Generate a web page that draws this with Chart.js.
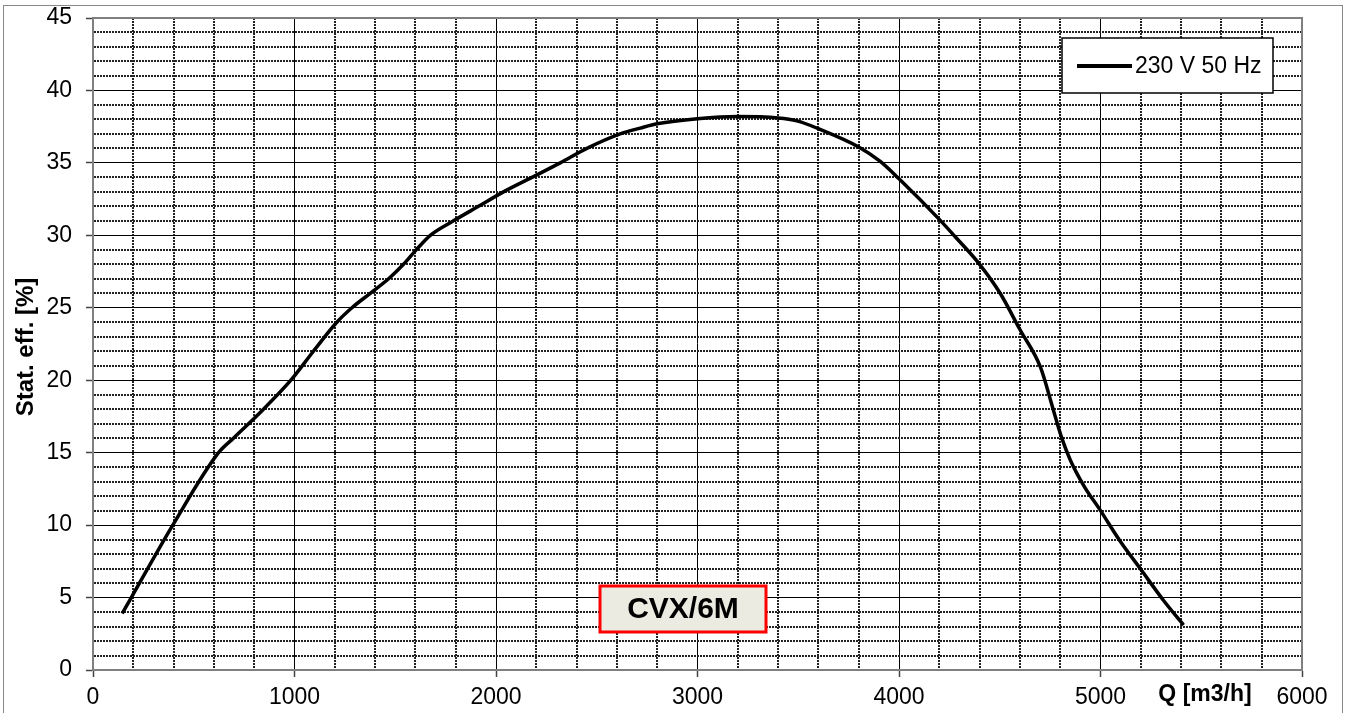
<!DOCTYPE html>
<html>
<head>
<meta charset="utf-8">
<script src="https://cdn.jsdelivr.net/npm/chart.js@4.4.1/dist/chart.umd.min.js"></script>
<style>
  html, body { margin: 0; padding: 0; background: #fff; }
  #wrap { position: relative; width: 1345px; height: 713px; }
</style>
</head>
<body>
<div id="wrap"><canvas id="effChart" width="1345" height="713"></canvas></div>
<script>
// flow rate Q [m3/h]
const flowValues = [145, 190, 396, 623, 697, 846, 982, 1094, 1210, 1285, 1376, 1467, 1541, 1604, 1674,
    1789, 1913, 2037, 2178, 2319, 2451, 2616, 2716, 2800, 3000, 3200, 3400, 3493, 3600, 3800,
    3907, 4000, 4200, 4279, 4400, 4502, 4600, 4702, 4767, 4808, 4850, 4916, 5000, 5097, 5197, 5313, 5412];
// static efficiency [%]
const effValues = [3.9, 5, 10, 15, 16, 18, 20, 22, 24, 25, 26, 27, 28, 29, 30,
    31, 32, 33, 34, 35, 36, 37, 37.4, 37.7, 38.05, 38.2, 38.1, 37.9, 37.36, 36.1,
    35.1, 33.9, 31.1, 29.9, 28, 26, 23.5, 20.9, 17.9, 16, 14.5, 12.75, 11, 8.9, 7, 4.8, 3.1];

const seriesLabel = '230 V 50 Hz';
const modelName = 'CVX/6M';
const xTitle = 'Q [m3/h]';
const yTitle = 'Stat. eff. [%]';
const xTickLabels = [0, 1000, 2000, 3000, 4000, 5000, 6000];
const yTickLabels = [0, 5, 10, 15, 20, 25, 30, 35, 40, 45];

const isMajorX = (v) => xTickLabels.includes(v);
const isMajorY = (v) => yTickLabels.includes(v);

// frame, legend, titles and model badge
const extras = {
    id: 'extras',
    beforeDatasetsDraw(chart) {
        const { ctx, chartArea: a } = chart;
        ctx.save();
        ctx.strokeStyle = '#808080';
        ctx.lineWidth = 2;
        ctx.strokeRect(a.left, a.top, a.right - a.left, a.bottom - a.top);
        ctx.restore();
    },
    afterDraw(chart) {
        const { ctx } = chart;
        ctx.save();

        // outer picture border
        ctx.strokeStyle = '#888';
        ctx.lineWidth = 1;
        ctx.strokeRect(3.5, 5.5, 1339, 720);

        // legend
        ctx.fillStyle = '#fff';
        ctx.fillRect(1062, 38, 211, 55);
        ctx.strokeStyle = '#000';
        ctx.lineWidth = 1.5;
        ctx.strokeRect(1062, 38, 211, 55);
        ctx.lineWidth = 4;
        ctx.beginPath();
        ctx.moveTo(1077, 66);
        ctx.lineTo(1132, 66);
        ctx.stroke();
        ctx.fillStyle = '#000';
        ctx.font = '23px "Liberation Sans", Arial, sans-serif';
        ctx.textAlign = 'left';
        ctx.textBaseline = 'middle';
        ctx.fillText(chart.data.datasets[0].label, 1135, 67);

        // axis titles
        ctx.font = 'bold 23px "Liberation Sans", Arial, sans-serif';
        ctx.textAlign = 'center';
        ctx.fillText(xTitle, 1205, 695);
        ctx.save();
        ctx.translate(26, 347);
        ctx.rotate(-Math.PI / 2);
        ctx.font = 'bold 24px "Liberation Sans", Arial, sans-serif';
        ctx.fillText(yTitle, 0, 0);
        ctx.restore();

        // model badge
        ctx.fillStyle = '#ECEBE1';
        ctx.fillRect(600, 586, 166, 46);
        ctx.strokeStyle = '#FF0000';
        ctx.lineWidth = 3;
        ctx.strokeRect(600, 586, 166, 46);
        ctx.fillStyle = '#000';
        ctx.font = 'bold 30px "Liberation Sans", Arial, sans-serif';
        ctx.fillText(modelName, 683, 610);

        ctx.restore();
    }
};

new Chart(document.getElementById('effChart'), {
    type: 'line',
    data: {
        datasets: [{
            label: seriesLabel,
            data: flowValues.map((q, i) => ({ x: q, y: effValues[i] })),
            borderColor: '#000',
            borderWidth: 3.5,
            pointRadius: 0,
            fill: false,
            cubicInterpolationMode: 'monotone'
        }]
    },
    options: {
        responsive: false,
        animation: false,
        layout: { padding: { top: 18, right: 43, left: 0, bottom: 0 } },
        plugins: {
            legend: { display: false },
            tooltip: { enabled: false }
        },
        scales: {
            x: {
                type: 'linear',
                min: 0,
                max: 6000,
                afterFit: (s) => {
                    s.height = 43;
                    s.paddingLeft = 0;
                    s.paddingRight = 0;
                },
                ticks: {
                    stepSize: 200,
                    autoSkip: false,
                    maxRotation: 0,
                    padding: 7,
                    color: '#000',
                    font: { family: '"Liberation Sans", Arial, sans-serif', size: 23 },
                    callback: (v) => isMajorX(v) ? String(v) : ''
                },
                grid: {
                    color: (c) => isMajorX(c.tick.value) ? '#000' : '#222',
                    lineWidth: (c) => isMajorX(c.tick.value) ? 1 : 2,
                    tickLength: 7,
                    tickColor: (c) => isMajorX(c.tick.value) ? '#444' : 'rgba(0,0,0,0)',
                    tickWidth: 1.5
                },
                border: {
                    color: '#808080',
                    width: 2,
                    dash: (c) => (c.tick && !isMajorX(c.tick.value)) ? [2, 1] : []
                }
            },
            y: {
                min: 0,
                max: 45,
                afterFit: (s) => {
                    s.width = 93;
                    s.paddingTop = 0;
                    s.paddingBottom = 0;
                },
                ticks: {
                    stepSize: 1,
                    autoSkip: false,
                    padding: 14,
                    color: '#000',
                    font: { family: '"Liberation Sans", Arial, sans-serif', size: 23 },
                    callback: (v) => isMajorY(v) ? String(v) : ''
                },
                grid: {
                    color: (c) => isMajorY(c.tick.value) ? '#000' : '#222',
                    lineWidth: (c) => isMajorY(c.tick.value) ? 1 : 2,
                    tickLength: 7,
                    tickColor: (c) => isMajorY(c.tick.value) ? '#444' : 'rgba(0,0,0,0)',
                    tickWidth: 1.5
                },
                border: {
                    color: '#808080',
                    width: 2,
                    dash: (c) => (c.tick && !isMajorY(c.tick.value)) ? [2, 1] : []
                }
            }
        }
    },
    plugins: [extras]
});
</script>
</body>
</html>
